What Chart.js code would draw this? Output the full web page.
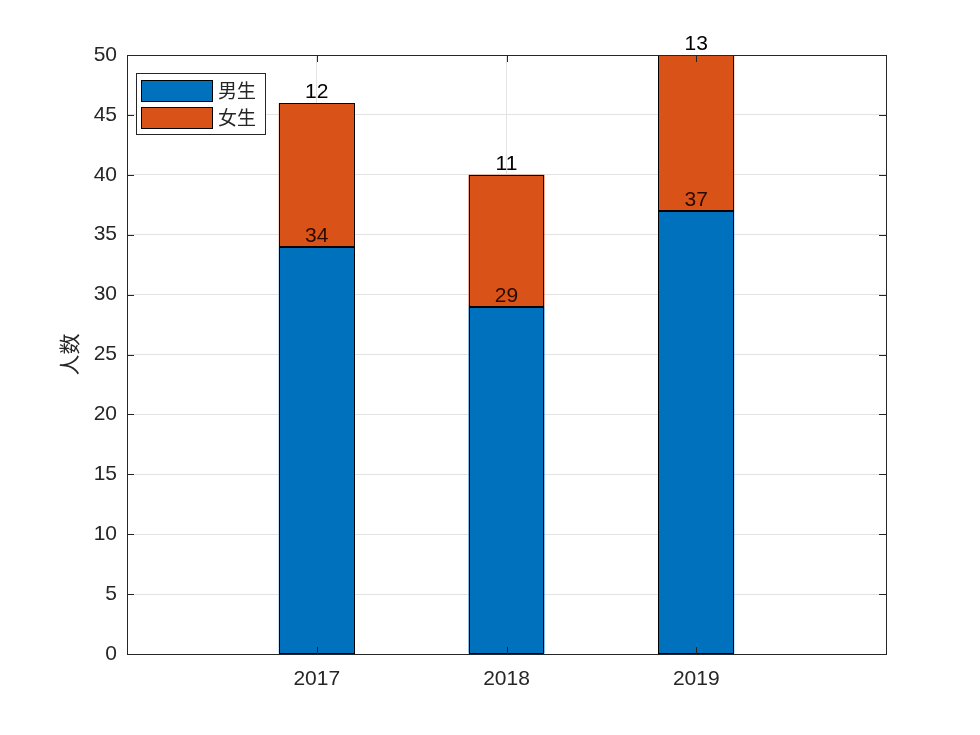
<!DOCTYPE html>
<html>
<head>
<meta charset="utf-8">
<script src="https://cdn.jsdelivr.net/npm/chart.js@4"></script>
<style>
  html, body { margin: 0; padding: 0; background: #fff; }
  #wrap { width: 980px; height: 735px; }
</style>
</head>
<body>
<div id="wrap"><canvas id="chart" width="980" height="735"></canvas></div>
<script>
const years = [2017, 2018, 2019];
const boys = [34, 29, 37];
const girls = [12, 11, 13];
const seriesNames = ["男生", "女生"];
const yTicks = [0, 5, 10, 15, 20, 25, 30, 35, 40, 45, 50];

const axisColor = "#262626";
const fontFamily = "'Liberation Sans', Arial, sans-serif";

// inward ticks, box outline, bar edges, value labels and the legend box
const matlabLook = {
    id: "matlabLook",
    afterDatasetsDraw(chart) {
        const { ctx, chartArea: a, scales } = chart;
        ctx.save();

        // black edge round every bar segment
        ctx.strokeStyle = "#000";
        ctx.lineWidth = 1;
        chart.data.datasets.forEach((ds, di) => {
            chart.getDatasetMeta(di).data.forEach(bar => {
                const x0 = Math.round(bar.x - bar.width / 2) + 0.5;
                const x1 = Math.round(bar.x + bar.width / 2) - 0.5;
                const y0 = Math.round(bar.y) + 0.5;
                const y1 = Math.round(bar.base) - 0.5;
                ctx.strokeRect(x0, y0, x1 - x0, y1 - y0);
            });
        });

        ctx.strokeStyle = axisColor;
        ctx.beginPath();
        yTicks.forEach(v => {
            const y = Math.round(scales.y.getPixelForValue(v)) + 0.5;
            ctx.moveTo(a.left, y); ctx.lineTo(a.left + 7, y);
            ctx.moveTo(a.right, y); ctx.lineTo(a.right - 7, y);
        });
        years.forEach(v => {
            const x = Math.round(scales.x.getPixelForValue(v)) + 0.5;
            ctx.moveTo(x, a.bottom); ctx.lineTo(x, a.bottom - 7);
            ctx.moveTo(x, a.top); ctx.lineTo(x, a.top + 7);
        });
        ctx.stroke();
        ctx.strokeRect(Math.round(a.left) + 0.5, Math.round(a.top) + 0.5,
            Math.round(a.right - a.left), Math.round(a.bottom - a.top));

        // value labels on top of each segment
        ctx.font = "21px " + fontFamily;
        ctx.textAlign = "center";
        ctx.textBaseline = "bottom";
        chart.data.datasets.forEach((ds, di) => {
            const meta = chart.getDatasetMeta(di);
            meta.data.forEach((bar, i) => {
                ctx.fillStyle = di === 0 ? "#2a0a00" : "#000";
                ctx.fillText(String(ds.data[i].y), bar.x, bar.y);
            });
        });

        // legend
        const lx = a.left + 9, ly = a.top + 18, lw = 129, lh = 61;
        ctx.fillStyle = "#fff";
        ctx.fillRect(lx, ly, lw, lh);
        ctx.strokeStyle = axisColor;
        ctx.strokeRect(lx + 0.5, ly + 0.5, lw, lh);
        ctx.font = "19px 'Noto Sans CJK SC', sans-serif";
        ctx.textAlign = "left";
        ctx.textBaseline = "middle";
        chart.data.datasets.forEach((ds, di) => {
            const sy = ly + 7 + di * 27;
            ctx.fillStyle = ds.backgroundColor;
            ctx.fillRect(lx + 5, sy, 71, 21);
            ctx.strokeStyle = "#000";
            ctx.strokeRect(lx + 5.5, sy + 0.5, 71, 21);
            ctx.fillStyle = axisColor;
            ctx.fillText(ds.label, lx + 82, sy + 11);
        });
        ctx.restore();
    }
};

new Chart(document.getElementById("chart"), {
    type: "bar",
    data: {
        datasets: [
            {
                label: seriesNames[0],
                data: years.map((yr, i) => ({ x: yr, y: boys[i] })),
                backgroundColor: "#0072BD",
                borderWidth: 0
            },
            {
                label: seriesNames[1],
                data: years.map((yr, i) => ({ x: yr, y: girls[i] })),
                backgroundColor: "#D95319",
                borderWidth: 0
            }
        ]
    },
    options: {
        responsive: false,
        animation: false,
        barPercentage: 0.4,
        categoryPercentage: 1,
        layout: { padding: { left: 0, right: 94, top: 55, bottom: 0 } },
        plugins: { legend: { display: false }, tooltip: { enabled: false } },
        scales: {
            x: {
                type: "linear",
                min: 2016,
                max: 2020,
                offset: false,
                stacked: true,
                afterFit: s => { s.height = 81; },
                grid: { color: "#e3e3e3", drawTicks: false, offset: false },
                border: { display: false },
                ticks: {
                    stepSize: 1,
                    padding: 13,
                    color: axisColor,
                    font: { family: fontFamily, size: 21 },
                    callback: v => years.includes(v) ? String(v) : ""
                }
            },
            y: {
                min: 0,
                max: 50,
                stacked: true,
                afterFit: s => { s.width = 127; },
                grid: { color: "#e3e3e3", drawTicks: false },
                border: { display: false },
                ticks: {
                    stepSize: 5,
                    padding: 10,
                    color: axisColor,
                    font: { family: fontFamily, size: 21 }
                },
                title: {
                    display: true,
                    text: "人数",
                    color: axisColor,
                    font: { family: "'Noto Sans CJK SC', sans-serif", size: 21 },
                    padding: { top: 56, bottom: 0 }
                }
            }
        }
    },
    plugins: [matlabLook]
});
</script>
</body>
</html>
